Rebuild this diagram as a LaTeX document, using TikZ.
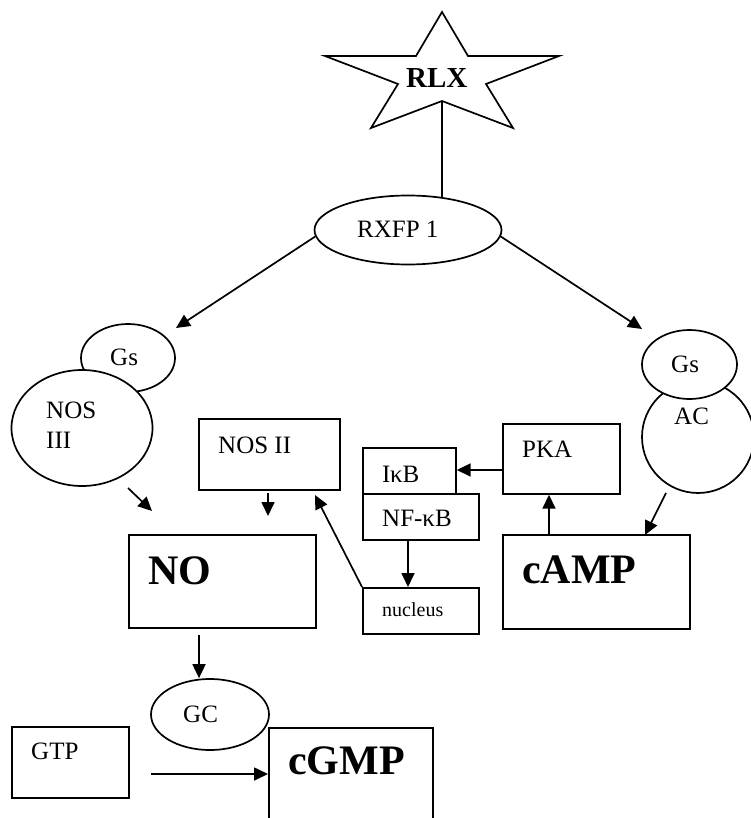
\documentclass[tikz,border=0pt]{standalone}
\usepackage{fontspec}
\setmainfont{Liberation Serif}
\usetikzlibrary{shapes.geometric,arrows.meta}
\tikzset{
  lw/.style={line width=1.7pt},
  box/.style={draw,lw,rectangle,inner sep=0pt,anchor=north west,fill=white},
  oval/.style={draw,lw,ellipse,inner sep=0pt,fill=white},
  txt/.style={inner sep=0pt,anchor=base west,font=\fontsize{25}{28}\selectfont},
  bigtxt/.style={inner sep=0pt,anchor=base west,font=\fontsize{42}{46}\selectfont\bfseries},
  arr/.style={lw,-{Triangle[length=14pt,width=13pt]}},
}
\begin{document}
\begin{tikzpicture}[x=1pt,y=-1pt]
\clip (0,0) rectangle (751,818);
\fill[white] (0,0) rectangle (751,818);

% star
\coordinate (s1) at (442,12);
\coordinate (s2) at (468,56);
\coordinate (s3) at (559,56);
\coordinate (s4) at (486,84);
\coordinate (s5) at (513,128);
\coordinate (starbot) at (442,101);
\coordinate (s7) at (371,128);
\coordinate (s8) at (398,84);
\coordinate (s9) at (325,56);
\coordinate (s10) at (416,56);
\draw[lw,line join=miter] (s1)--(s2)--(s3)--(s4)--(s5)--(starbot)--(s7)--(s8)--(s9)--(s10)--cycle;
\node[inner sep=0pt,anchor=base west,font=\fontsize{29}{32}\selectfont\bfseries] (rlx) at (406,88) {RLX};

% receptor
\node[oval,minimum width=187pt,minimum height=69pt] (rxfp) at (408,230) {};
\node[txt] (rxfpt) at (357,237) {RXFP 1};
\coordinate (rxtop) at (442,198);
\draw[lw] (starbot) -- (rxtop);

% left branch
\node[oval,minimum width=94pt,minimum height=68pt] (gsl) at (128,358) {};
\node[txt] (gslt) at (110,365) {Gs};
\node[oval,minimum width=141pt,minimum height=116pt] (nos3) at (82,428) {};
\node[txt] (nos3a) at (46,418) {NOS};
\node[txt] (nos3b) at (46,448) {III};

% right branch
\node[oval,minimum width=112pt,minimum height=112pt] (ac) at (698,437) {};
\node[txt] (act) at (674,424) {AC};
\node[oval,minimum width=95pt,minimum height=69pt] (gsr) at (689.5,364.5) {};
\node[txt] (gsrt) at (671,372) {Gs};

% boxes
\node[box,minimum width=141pt,minimum height=71pt] (nos2) at (198,418) {};
\node[txt] (nos2t) at (218,453) {NOS II};
\node[box,minimum width=187pt,minimum height=93pt] (no) at (128,534) {};
\node[bigtxt] (not) at (148,584) {NO};
\node[box,minimum width=93pt,minimum height=46pt] (ikb) at (362,447) {};
\node[txt] (ikbt) at (382,482) {I\kern-0.5pt κB};
\node[box,minimum width=116pt,minimum height=46pt] (nfkb) at (362,493) {};
\node[txt] (nfkbt) at (382,526) {NF-κB};
\node[box,minimum width=116pt,minimum height=46pt] (nuc) at (362,587) {};
\node[inner sep=0pt,anchor=base west,font=\fontsize{20}{24}\selectfont] (nuct) at (382,616) {nucleus};
\node[box,minimum width=117pt,minimum height=70pt] (pka) at (502,423) {};
\node[txt] (pkat) at (522,457) {PKA};
\node[box,minimum width=187pt,minimum height=94pt] (camp) at (502,534) {};
\node[bigtxt] (campt) at (522,583) {cAMP};

% bottom
\node[box,minimum width=117pt,minimum height=71pt] (gtp) at (11,726) {};
\node[txt] (gtpt) at (31,759) {GTP};
\node[box,minimum width=164pt,minimum height=120pt] (cgmp) at (268,727) {};
\node[bigtxt] (cgmpt) at (288,774) {cGMP};
\node[oval,minimum width=118pt,minimum height=71pt] (gc) at (210,714.5) {};
\node[txt] (gct) at (183,722) {GC};

% arrow end points
\coordinate (tipgsl) at (176,328);
\coordinate (tipgsr) at (642,329);
\coordinate (nos3s) at (128,488);
\coordinate (tipno1) at (152,511);
\coordinate (nos2s) at (268,493);
\coordinate (tipno2) at (268,516);
\coordinate (tipnos2) at (315,495);
\coordinate (acs) at (666,493);
\coordinate (tipcamp) at (645,535);
\coordinate (gtps) at (151,774);

% connectors
\draw[arr] (rxfp.184) -- (tipgsl);
\draw[arr] (rxfp.356) -- (tipgsr);
\draw[arr] (nos3s) -- (tipno1);
\draw[arr] (nos2s) -- (tipno2);
\draw[arr] (nuc.north west) -- (tipnos2);
\draw[arr] (pka.west |- 0,470) -- (ikb.east |- 0,470);
\draw[arr] (camp.north -| 549,0) -- (pka.south -| 549,0);
\draw[arr] (nfkb.south -| 408,0) -- (nuc.north -| 408,0);
\draw[arr] (acs) -- (tipcamp);
\draw[arr] (no.south -| 199,0) ++(0,6) -- (gc.north -| 199,0);
\draw[arr] (gtps) -- (cgmp.west |- 0,774);
\end{tikzpicture}
\end{document}
